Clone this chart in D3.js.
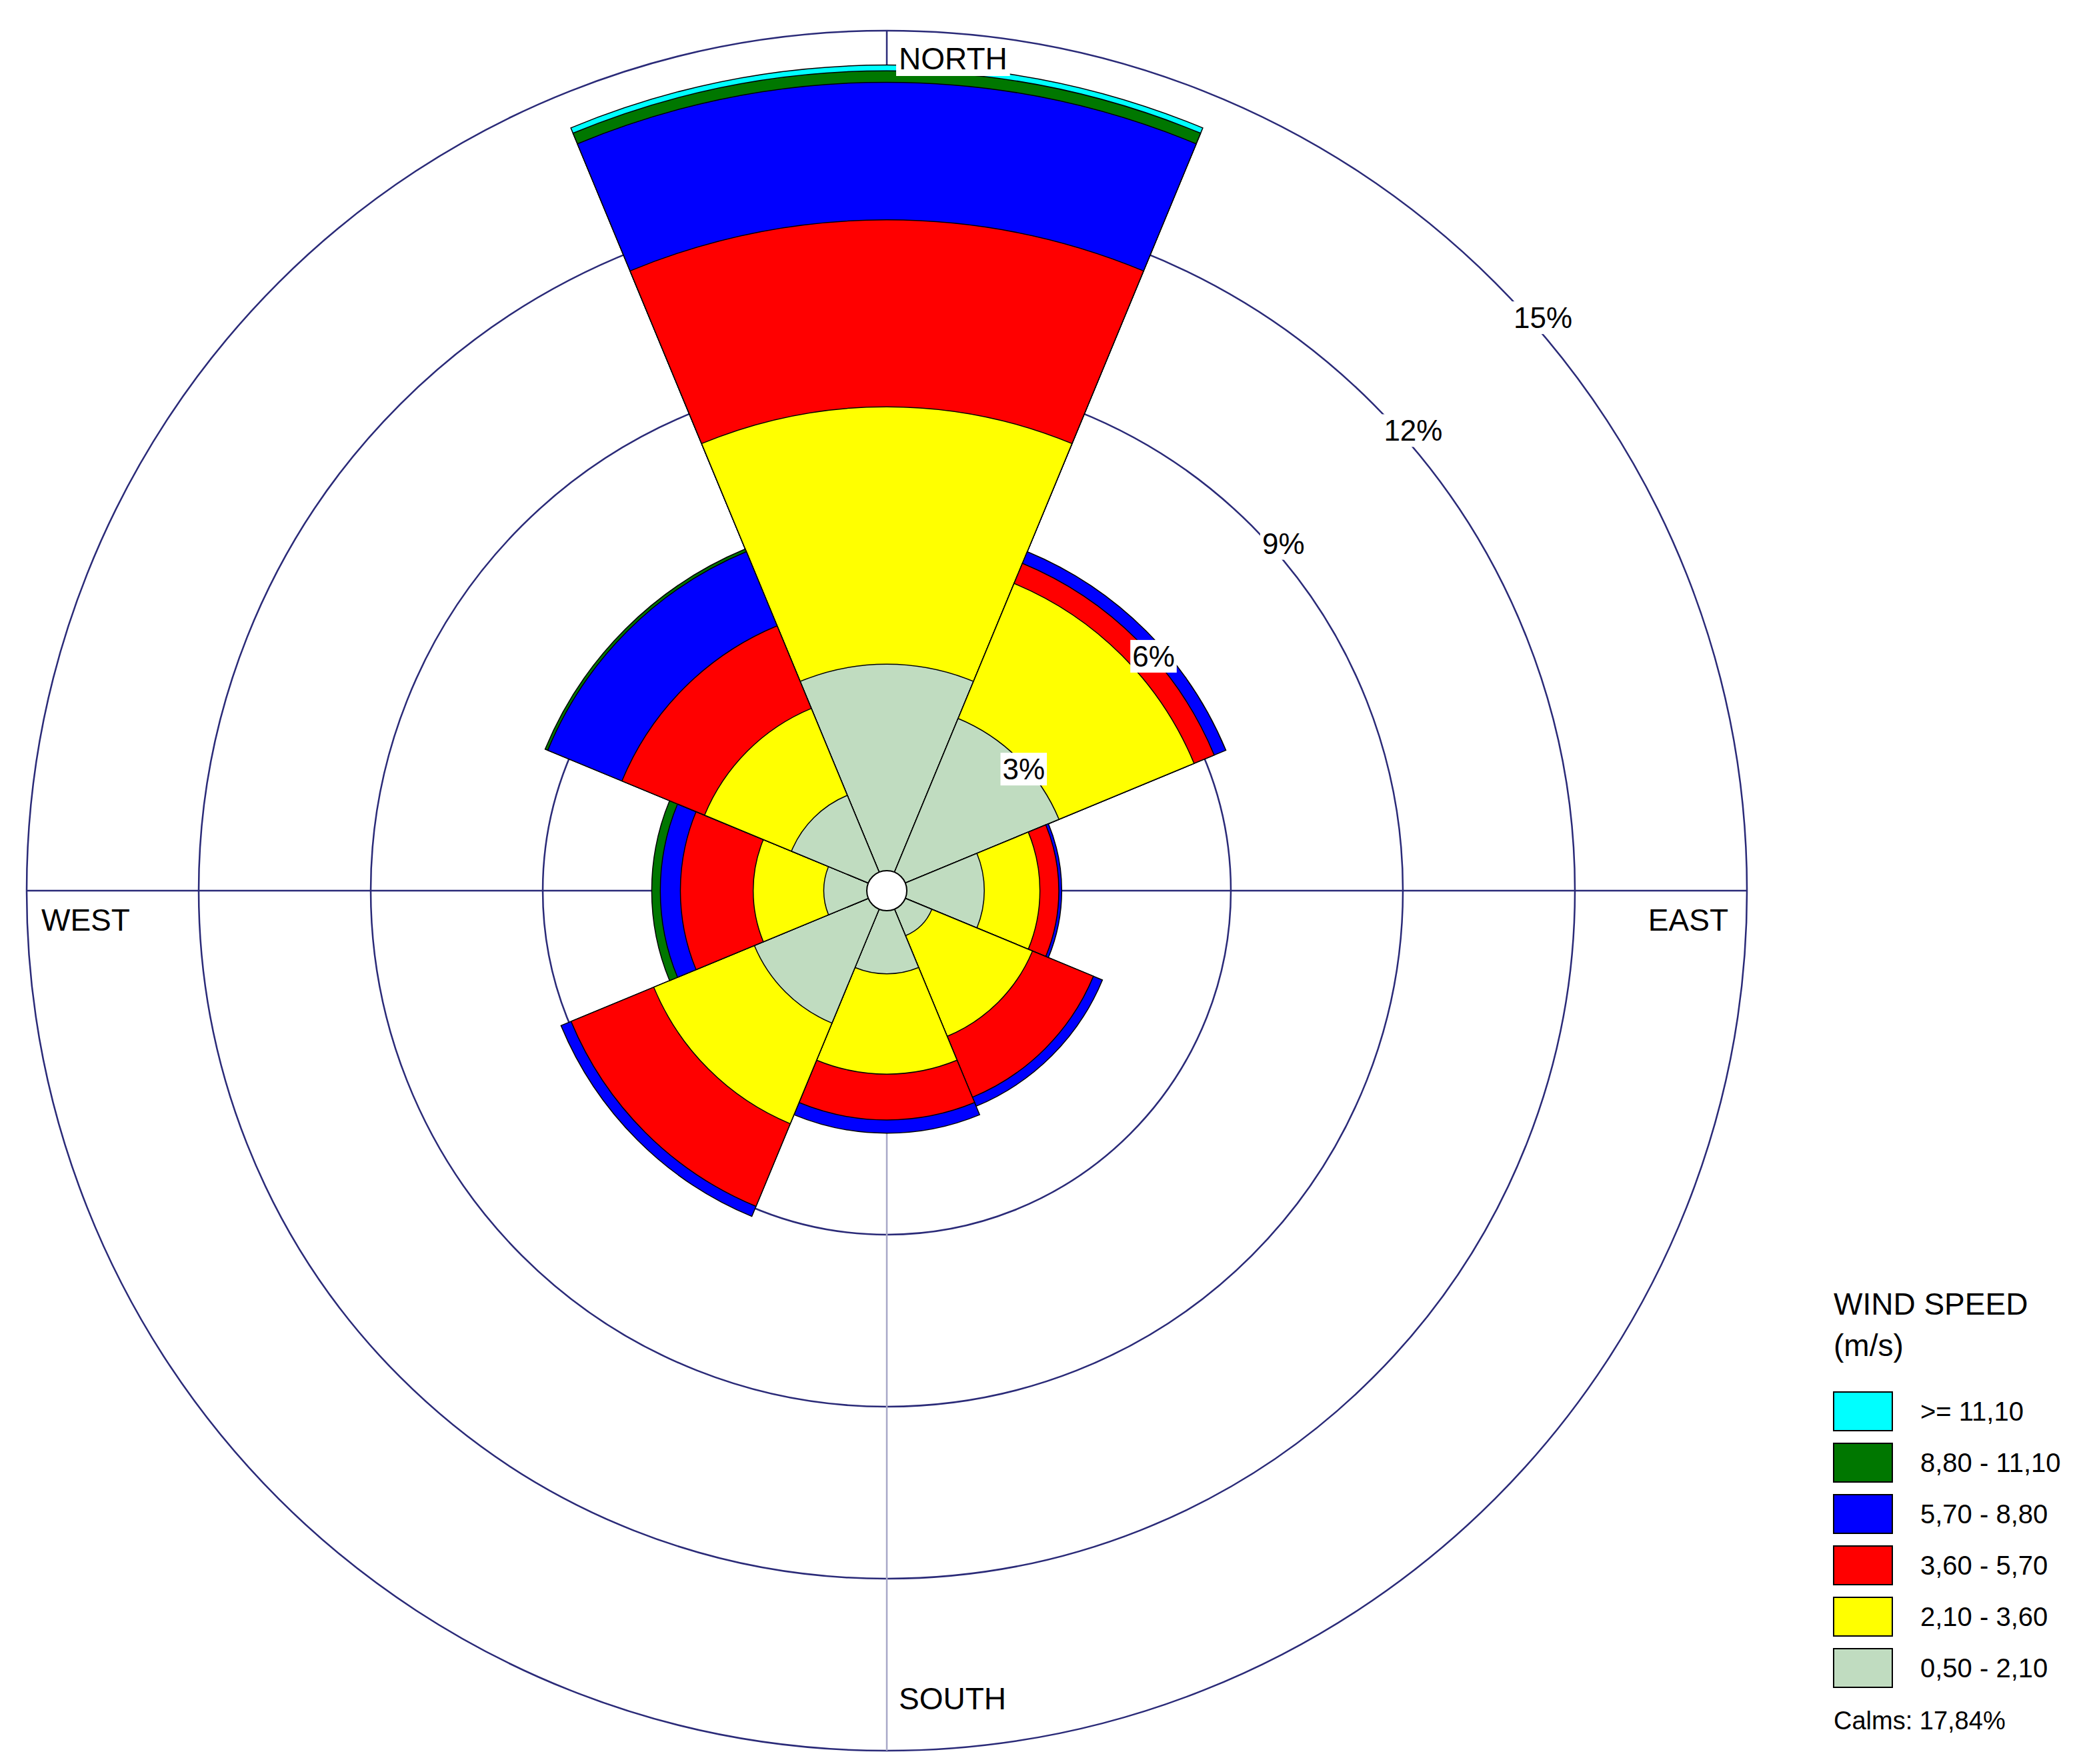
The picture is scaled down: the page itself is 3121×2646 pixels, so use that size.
<!DOCTYPE html><html><head><meta charset="utf-8">
<script src="https://cdn.jsdelivr.net/npm/d3@7"></script>
<style>body{margin:0;background:#fff}</style></head><body>
<script>
const directions=["N","NE","E","SE","S","SW","W","NW"];
const bins=[">= 11.10","8.80 - 11.10","5.70 - 8.80","3.60 - 5.70","2.10 - 3.60","0.50 - 2.10"];
const colors=["#00ffff","#007700","#0000ff","#ff0000","#ffff00","#c0dcc0"];
// cumulative % per direction, order: 0.5-2.1, 2.1-3.6, 3.6-5.7, 5.7-8.8, 8.8-11.1, >=11.1
const cumN =[3.95,8.44,11.7,14.1,14.3,14.4];
const cumNE=[3.25,5.8,6.18,6.4,6.4,6.4];
const cumE =[1.7,2.67,3.0,3.05,3.05,3.05];
const cumSE=[0.85,2.75,3.9,4.07,4.07,4.07];
const cumS =[1.45,3.2,4.0,4.23,4.23,4.23];
const cumSW=[2.5,4.4,5.96,6.15,6.15,6.15];
const cumW =[1.1,2.33,3.6,3.95,4.1,4.1];
const cumNW=[1.8,3.44,5.0,6.4,6.45,6.45];
const cums=[cumN,cumNE,cumE,cumSE,cumS,cumSW,cumW,cumNW];
const ringTicks=[3,6,9,12,15];
const calms="Calms: 17.84%";

const W=3121,H=2646,cx=1330,cy=1336;
const svg=d3.select("body").append("svg").attr("width",W).attr("height",H).style("font-family","Arial, Liberation Sans, sans-serif");
const r=d3.scaleLinear().domain([0,15]).range([0,1290]);
const g=svg.append("g").attr("transform",`translate(${cx},${cy})`);
const navy="#2a2a78";
ringTicks.forEach(t=>g.append("circle").attr("r",r(t)).attr("fill","none").attr("stroke",navy).attr("stroke-width",2.5));
g.append("line").attr("x1",-r(15)).attr("x2",r(15)).attr("stroke",navy).attr("stroke-width",2.5);
g.append("line").attr("y1",-r(15)).attr("y2",0).attr("stroke",navy).attr("stroke-width",2.5);
g.append("line").attr("y1",0).attr("y2",r(15)).attr("stroke","#a8a8c8").attr("stroke-width",2.5);
const arc=d3.arc();
const step=2*Math.PI/directions.length;
directions.forEach((d,i)=>{
  const c=cums[i];
  for(let k=c.length-1;k>=0;k--){
    if(k>0&&c[k]<=c[k-1])continue;
    g.append("path").attr("d",arc({innerRadius:0,outerRadius:r(c[k]),startAngle:i*step-step/2,endAngle:i*step+step/2}))
     .attr("fill",colors[colors.length-1-k]).attr("stroke","#000").attr("stroke-width",1.5);
  }
});
g.append("circle").attr("r",30).attr("fill","#fff").attr("stroke","#000").attr("stroke-width",2);
const ang=49*Math.PI/180;
ringTicks.forEach(t=>{
  const rr=r(t)+14, x=rr*Math.sin(ang), y=-rr*Math.cos(ang);
  const tx=g.append("text").attr("x",x).attr("y",y).attr("text-anchor","middle").attr("dominant-baseline","middle").attr("font-size",44).text(t+"%");
  const b=tx.node().getBBox();
  g.insert("rect",()=>tx.node()).attr("x",b.x-3).attr("y",b.y).attr("width",b.width+6).attr("height",b.height).attr("fill","#fff");
});
function lab(t,x,y,anchor,bg){
  const tx=svg.append("text").attr("x",x).attr("y",y).attr("text-anchor",anchor).attr("font-size",46).text(t);
  if(bg){const b=tx.node().getBBox();svg.insert("rect",()=>tx.node()).attr("x",b.x-4).attr("y",b.y).attr("width",b.width+8).attr("height",b.height).attr("fill","#fff");}
}
lab("NORTH",1348,104,"start",true);
lab("SOUTH",1348,2564,"start",false);
lab("WEST",62,1396,"start",false);
lab("EAST",2592,1396,"end",false);
// legend
const lx=2750;
svg.append("text").attr("x",lx).attr("y",1972).attr("font-size",46).text("WIND SPEED");
svg.append("text").attr("x",lx).attr("y",2034).attr("font-size",46).text("(m/s)");
bins.forEach((b,i)=>{
  const y=2088+i*77;
  svg.append("rect").attr("x",lx).attr("y",y).attr("width",88).attr("height",58).attr("fill",colors[i]).attr("stroke","#000").attr("stroke-width",2);
  svg.append("text").attr("x",lx+130).attr("y",y+43).attr("font-size",40).text(b.replace(/\./g,","));
});
svg.append("text").attr("x",lx).attr("y",2594).attr("font-size",38).text(calms.replace(".",","));
</script></body></html>
